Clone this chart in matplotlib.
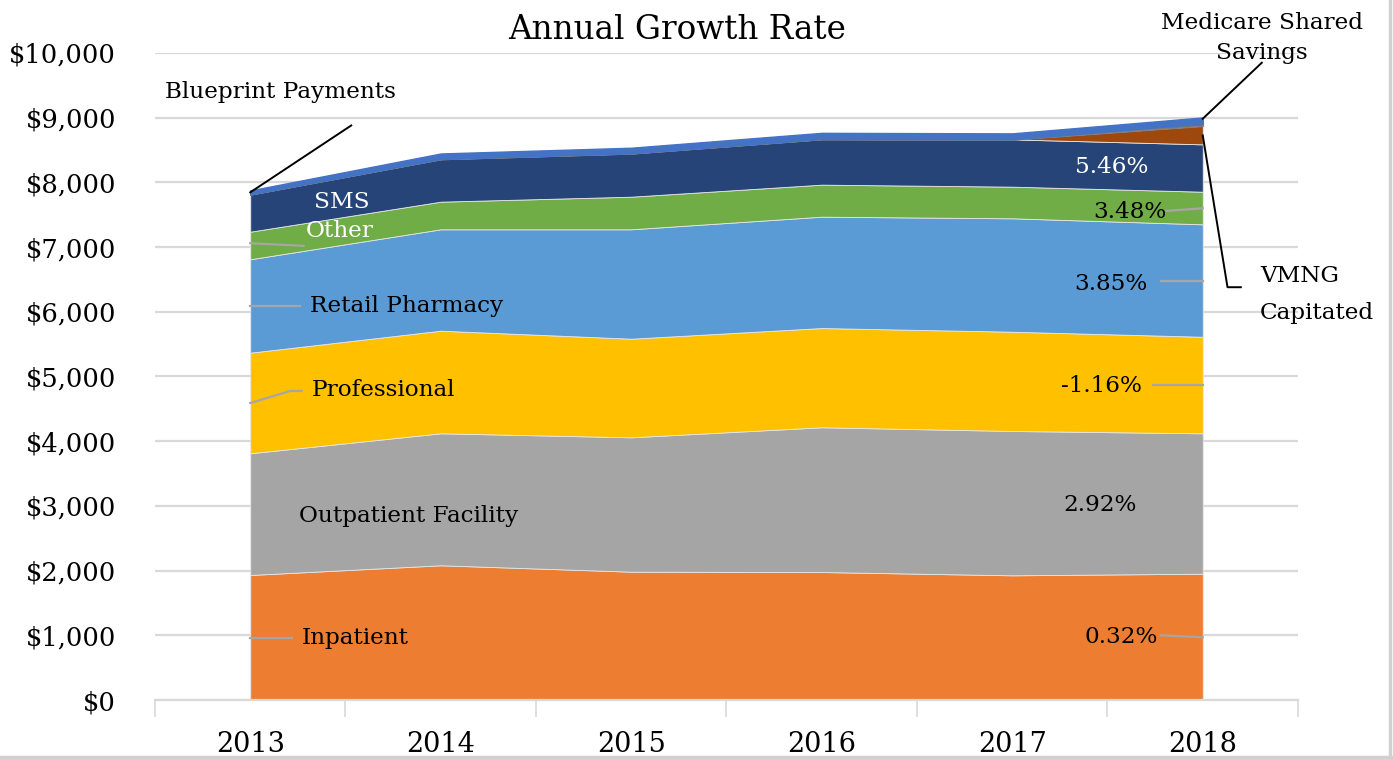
import matplotlib
matplotlib.use("Agg")
import matplotlib.pyplot as plt
from matplotlib.lines import Line2D
import numpy as np

years = ["2013", "2014", "2015", "2016", "2017", "2018"]
inpatient = [1932, 2082, 1983, 1978, 1927, 1952]
outpatient = [1881, 2040, 2077, 2237, 2231, 2170]
professional = [1555, 1586, 1524, 1534, 1534, 1492]
retail_pharmacy = [1444, 1567, 1691, 1721, 1753, 1738]
other = [426, 427, 504, 495, 489, 504]
sms = [578, 660, 671, 706, 731, 732]
vmng_capitated = [0, 0, 0, 0, 0, 288]
medicare_shared = [0, 0, 0, 0, 0, 35]
blueprint = [60, 85, 86, 95, 93, 93]

growth_labels = ["0.32%", "2.92%", "-1.16%", "3.85%", "3.48%", "5.46%"]
yticks = list(range(0, 10001, 1000))
ytick_labels = ["$" + format(v, ",") for v in yticks]

series = [inpatient, outpatient, professional, retail_pharmacy, other, sms,
          vmng_capitated, medicare_shared, blueprint]
colors = ["#ED7D31", "#A5A5A5", "#FFC000", "#5B9BD5", "#70AD47", "#264478",
          "#9E480E", "#636363", "#4472C4"]

FONT = "DejaVu Serif"
plt.rcParams["font.family"] = FONT

W, H = 1393, 759
fig = plt.figure(figsize=(W / 100, H / 100), dpi=100)
ax = fig.add_axes([155 / W, 1 - 700 / H, (1298 - 155) / W, (700 - 53) / H])

x = np.arange(len(years))
polys = ax.stackplot(x, *series, colors=colors, zorder=2)
for i, p in enumerate(polys):
    if i == 7:
        p.set_edgecolor("#7F7F7F")
        p.set_linewidth(1.2)
    elif i == 8:
        p.set_edgecolor("#4472C4")
        p.set_linewidth(1.0)
    else:
        p.set_edgecolor("#E6E6E6")
        p.set_linewidth(0.6)

ax.set_xlim(-0.5, len(years) - 0.5)
ax.set_ylim(0, 10000)
ax.set_yticks(yticks)
ax.set_yticklabels(ytick_labels, fontsize=18.5)
ax.tick_params(axis="y", length=0, pad=28)
ax.set_xticks(x)
ax.set_xticklabels(years, fontsize=19.5)
ax.tick_params(axis="x", which="major", length=0, pad=22)
ax.set_xticks(np.arange(-0.5, len(years)), minor=True)
ax.tick_params(axis="x", which="minor", length=12, width=1.2, color="#D9D9D9")
ax.grid(axis="y", color="#D9D9D9", linewidth=1.6, zorder=0)
ax.set_axisbelow(True)
for s in ["top", "right", "left"]:
    ax.spines[s].set_visible(False)
ax.spines["bottom"].set_color("#D9D9D9")
ax.spines["bottom"].set_linewidth(1.6)

fig.text(677 / W, 1 - 30 / H, "Annual Growth Rate", fontsize=23.5,
         ha="center", va="center")

cum = np.cumsum(np.array(series), axis=0)
last = len(years) - 1
gray = "#A6A6A6"
FS = 16.7

def lbl(xd, yd, text, color="black", ha="center", size=FS):
    ax.text(xd, yd, text, color=color, ha=ha, va="center", fontsize=size, zorder=5)

def seg(xs, ys, color=gray, lw=1.6):
    ax.add_line(Line2D(xs, ys, color=color, linewidth=lw, zorder=4, clip_on=False))

# Left category labels
lbl(0.55, 960, "Inpatient")
seg([0, 0.22], [960, 960])
lbl(0.83, 2850, "Outpatient Facility")
lbl(0.70, 4790, "Professional")
seg([0, 0.21, 0.27], [4590, 4776, 4776])
lbl(0.82, 6090, "Retail Pharmacy")
seg([0, 0.26], [6090, 6090])
lbl(0.47, 7250, "Other", color="white")
seg([0, 0.28], [7060, 7020])
lbl(0.48, 7700, "SMS", color="white")

# Right growth labels
lbl(4.57, 980, growth_labels[0])
seg([4.78, 5.0], [1000, 970])
lbl(4.46, 3010, growth_labels[1])
lbl(4.47, 4853, growth_labels[2])
seg([4.74, 5.0], [4870, 4870])
lbl(4.52, 6430, growth_labels[3])
seg([4.78, 5.0], [6470, 6470])
lbl(4.62, 7543, growth_labels[4])
seg([4.81, 5.0], [7560, 7600])
lbl(4.52, 8238, growth_labels[5], color="white")

# Callouts
lbl(0.16, 9390, "Blueprint Payments")
seg([0.0, 0.53], [cum[-1][0] - 30, 8880], color="black", lw=1.4)
ax.text(5.31, 10230, "Medicare Shared\nSavings", ha="center", va="center",
        fontsize=FS, linespacing=1.45, zorder=5)
seg([5.31, 5.0], [9850, cum[-1][last] - 20], color="black", lw=1.4)
ax.text(5.30, 6270, "VMNG\nCapitated", ha="left", va="center", fontsize=FS,
        linespacing=1.85, zorder=5)
seg([5.0, 5.13, 5.2], [cum[6][last] - 150, 6380, 6380], color="black", lw=1.4)

# figure border lines
fig.add_artist(Line2D([1390 / W, 1390 / W], [0, 1], color="#D0D0D0", linewidth=2.5))
fig.add_artist(Line2D([0, 1], [2 / H, 2 / H], color="#D0D0D0", linewidth=2.5))

fig.savefig("out.png", dpi=100)
